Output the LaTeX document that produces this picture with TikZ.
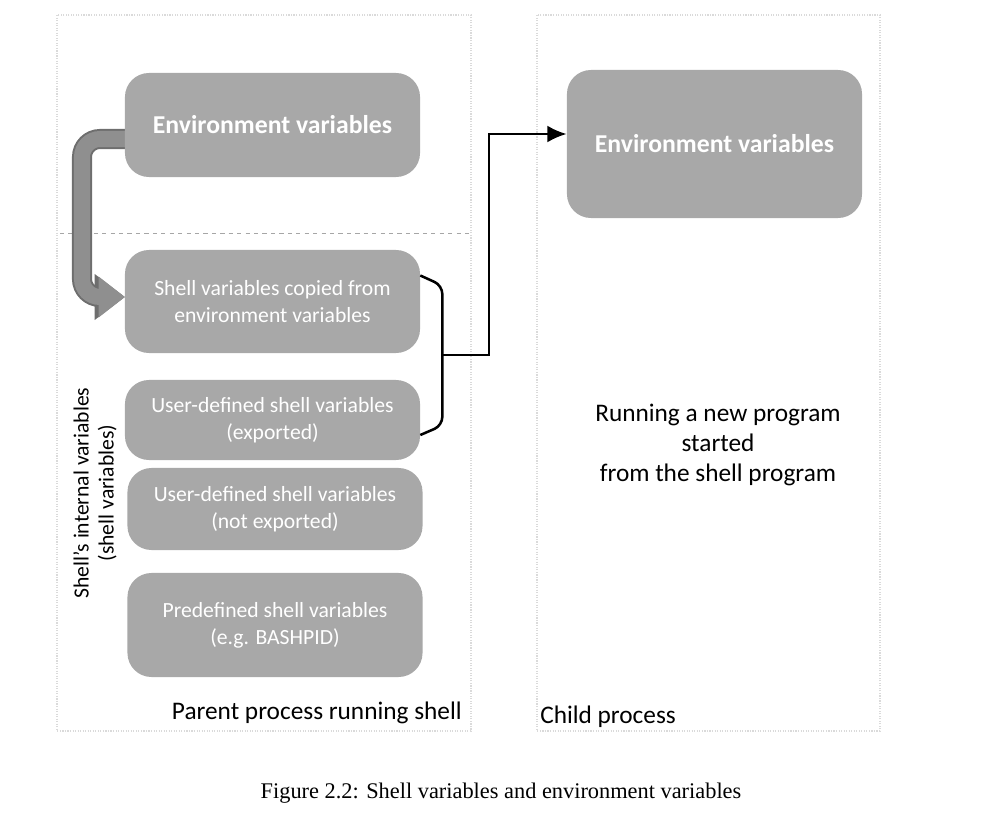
\documentclass[tikz,border=0pt]{standalone}
\usepackage{fontspec}
\setmainfont{Carlito}
\newfontfamily\capfont{Liberation Serif}
\usepackage{tikz}
\usetikzlibrary{arrows.meta, positioning}
\definecolor{boxgray}{HTML}{A8A8A8}
\definecolor{arrowgray}{HTML}{8F8F8F}
\definecolor{edgegray}{HTML}{6E6E6E}
\definecolor{panelgray}{HTML}{DADADA}

\begin{document}
\begin{tikzpicture}[x=0.025cm, y=-0.025cm,
	varbox/.style={fill=boxgray, rounded corners=0.6cm, text=white, align=center, minimum width=7.375cm, inner sep=0pt, font=\fontsize{15.4}{19}\selectfont},
	envtext/.style={font=\bfseries\fontsize{18.3}{22}\selectfont},
	panel/.style={draw=panelgray, densely dotted, line width=0.8pt},
	paneltext/.style={inner sep=0pt, font=\fontsize{18}{21.3}\selectfont},
	conn/.style={line width=1.8pt, -{Latex[length=0.48cm, width=0.42cm]}},
	bracket/.style={line width=1.8pt, rounded corners=6pt}]
	
	\useasboundingbox (0,0) rectangle (995,835);
	
	% paineis
	\draw[panel] (57,15) rectangle (471,731);
	\draw[panel] (537,15) rectangle (880,731);
	\draw[dashed, gray!70] (60,233) -- (470,233);
	
	% seta cinza (copia)
	\coordinate (gstart) at (135,139);
	\coordinate (gtip) at (125,297);
	\draw[line width=0.5cm, edgegray, rounded corners=0.45cm, -{Triangle[width=1.1cm, length=0.76cm]}] (gstart) -- (82,139) -- (82,297) -- (gtip);
	\draw[line width=0.4cm, arrowgray, rounded corners=0.45cm, -{Triangle[width=0.98cm, length=0.66cm]}] (gstart) -- (82,139) -- (82,297) -- (gtip);
	
	% variaveis do processo pai
	\node[varbox, minimum height=2.6cm, envtext] (env) at (272.5,125) {Environment variables};
	\node[varbox, minimum height=2.575cm] (copied) at (272.5,301.5) {Shell variables copied from\\environment variables};
	\node[varbox, minimum height=2cm] (exported) at (272.5,420) {User-defined shell variables\\(exported)};
	\node[varbox, minimum height=2.05cm] (notexp) at (275,509) {User-defined shell variables\\(not exported)};
	\node[varbox, minimum height=2.6cm] (predef) at (275,625) {Predefined shell variables\\(e.g. BASHPID)};
	
	% processo filho
	\node[varbox, minimum height=3.7cm, envtext] (childenv) at (714.5,144) {Environment variables};
	
	% chave e seta
	\draw[bracket] ([yshift=0.65cm]copied.east) -- ++(22,10) -- ++(0,140) -- ([yshift=-0.375cm]exported.east);
	\coordinate (brk) at (442,355);
	\coordinate (turn) at (489,134);
	\draw[conn] (brk) -| (turn) -- (turn -| childenv.west);
	
	% textos
	\node[rotate=90, align=center, font=\fontsize{15.4}{17.8}\selectfont] (shellint) at (95,493) {Shell's internal variables\\(shell variables)};
	\node[paneltext, anchor=east] (parent) at (462,713) {Parent process running shell};
	\node[paneltext, anchor=west] (child) at (540,717) {Child process};
	\node[paneltext, align=center] (running) at (718,445) {Running a new program\\started\\from the shell program};
	\node[font=\capfont\fontsize{15.9}{19}\selectfont] (caption) at (501,793) {Figure 2.2: Shell variables and environment variables};
\end{tikzpicture}
\end{document}
